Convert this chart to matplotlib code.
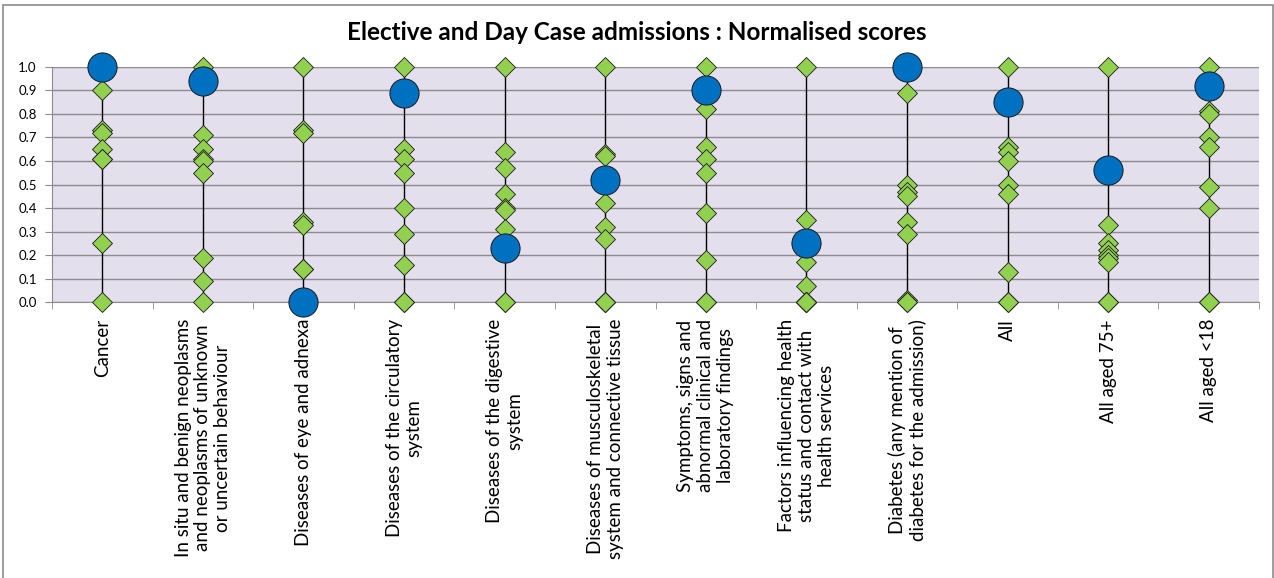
import numpy as np
import matplotlib.pyplot as plt
from matplotlib.patches import Rectangle

plt.rcParams['font.family'] = ['Lato', 'DejaVu Sans']

# admission groups along the x axis
categories = [
    "Cancer",
    "In situ and benign neoplasms\nand neoplasms of unknown\nor uncertain behaviour",
    "Diseases of eye and adnexa",
    "Diseases of the circulatory\nsystem",
    "Diseases of the digestive\nsystem",
    "Diseases of musculoskeletal\nsystem and connective tissue",
    "Symptoms, signs and\nabnormal clinical and\nlaboratory findings",
    "Factors influencing health\nstatus and contact with\nhealth services",
    "Diabetes (any mention of\ndiabetes for the admission)",
    "All",
    "All aged 75+",
    "All aged <18",
]

# normalised scores of the comparator areas (green diamonds)
area_scores = [
    [1.0, 0.90, 0.73, 0.72, 0.65, 0.61, 0.61, 0.25, 0.0],
    [1.0, 0.71, 0.65, 0.61, 0.60, 0.55, 0.19, 0.09, 0.0],
    [1.0, 0.73, 0.72, 0.34, 0.33, 0.14, 0.14, 0.0, 0.0],
    [1.0, 0.65, 0.61, 0.55, 0.40, 0.29, 0.16, 0.0, 0.0],
    [1.0, 0.64, 0.57, 0.46, 0.40, 0.39, 0.31, 0.0, 0.0],
    [1.0, 0.63, 0.62, 0.42, 0.32, 0.27, 0.0, 0.0, 0.0],
    [1.0, 0.82, 0.66, 0.61, 0.55, 0.38, 0.18, 0.0, 0.0],
    [1.0, 0.35, 0.22, 0.17, 0.07, 0.0, 0.0, 0.0, 0.0],
    [0.89, 0.50, 0.47, 0.45, 0.34, 0.29, 0.01, 0.0, 0.0],
    [1.0, 0.66, 0.64, 0.60, 0.50, 0.46, 0.13, 0.0, 0.0],
    [1.0, 0.33, 0.25, 0.22, 0.20, 0.19, 0.17, 0.0, 0.0],
    [1.0, 0.81, 0.80, 0.70, 0.66, 0.49, 0.40, 0.0, 0.0],
]

# normalised score of the local area (blue circles)
local_scores = [1.0, 0.94, 0.0, 0.89, 0.23, 0.52, 0.90, 0.25, 1.0, 0.85, 0.56, 0.92]

x = np.arange(len(categories))

fig = plt.figure(figsize=(12.74, 5.78), dpi=100)
ax = fig.add_axes([52 / 1274, 275.7 / 578, 1207 / 1274, 235.6 / 578])
ax.set_facecolor('#e4dfec')

# high-low line through every group
lows = [min(min(s), c) for s, c in zip(area_scores, local_scores)]
highs = [max(max(s), c) for s, c in zip(area_scores, local_scores)]
ax.vlines(x, lows, highs, color='black', linewidth=1.0, zorder=2)

for i, scores in enumerate(area_scores):
    ax.plot([x[i]] * len(scores), scores, linestyle='none', marker='D',
            markersize=10, markerfacecolor='#92d050', markeredgecolor='#1a1a1a',
            markeredgewidth=0.6, zorder=3, clip_on=False)

ax.plot(x, local_scores, linestyle='none', marker='o', markersize=21,
        markerfacecolor='#0070c0', markeredgecolor='#1a1a1a',
        markeredgewidth=0.7, zorder=4, clip_on=False)

ax.set_xlim(-0.5, len(categories) - 0.5)
ax.set_ylim(0, 1.0)
ax.set_yticks(np.arange(0, 1.01, 0.1))
ax.set_yticklabels(['%.1f' % v for v in np.arange(0, 1.01, 0.1)], fontsize=9.5)
ax.yaxis.grid(True, color='#8c8c8c', linewidth=1.0)
ax.set_axisbelow(True)

# category names between the boundary ticks
ax.set_xticks(x)
ax.set_xticklabels(categories, rotation=90, fontsize=13.5, ha='center', va='top',
                   multialignment='center', linespacing=1.2)
ax.tick_params(axis='x', length=0, pad=12)
ax.set_xticks(np.arange(-0.5, len(categories)), minor=True)
ax.tick_params(axis='x', which='minor', length=5, color='#8c8c8c')
ax.tick_params(axis='y', length=5, color='#8c8c8c', pad=6)

for side in ['top', 'right']:
    ax.spines[side].set_visible(False)
for side in ['left', 'bottom']:
    ax.spines[side].set_color('#8c8c8c')

fig.text(0.5, 1 - 33 / 578, 'Elective and Day Case admissions : Normalised scores',
         fontsize=17.5, fontweight='bold', ha='center', va='center')

# chart border
fig.patches.append(Rectangle((3 / 1274, -0.01), 1270 / 1274, 1 - 5 / 578 + 0.01,
                             transform=fig.transFigure, fill=False,
                             edgecolor='#8c8c8c', linewidth=1.2))

fig.savefig('out.png', dpi=100)
